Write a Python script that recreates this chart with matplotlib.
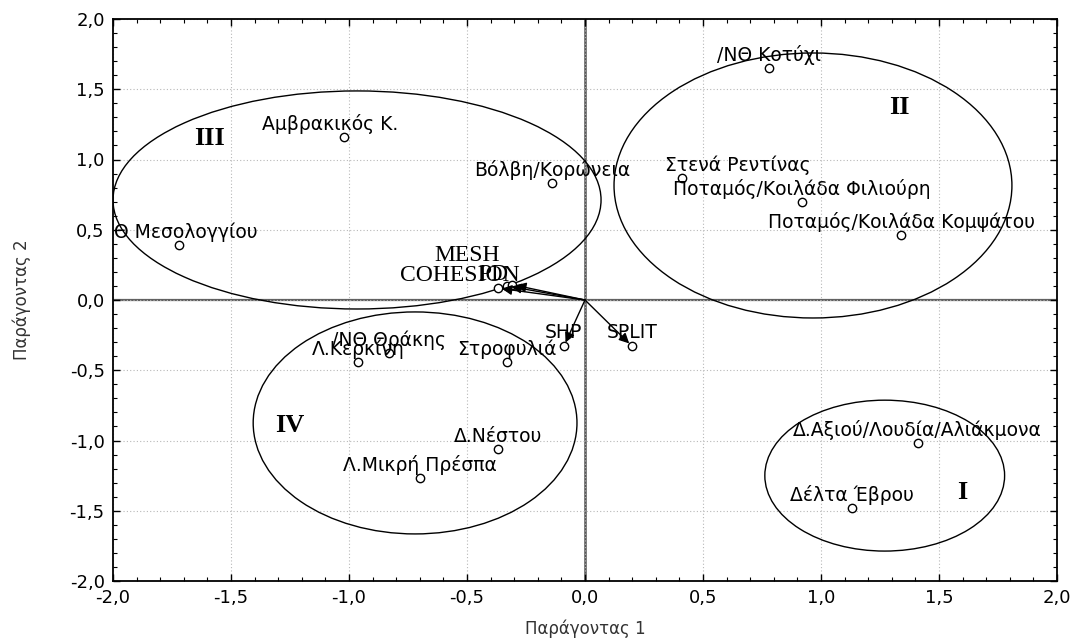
import matplotlib
matplotlib.use("Agg")
import matplotlib.pyplot as plt
from matplotlib.patches import Ellipse
from matplotlib.ticker import MultipleLocator, FixedLocator

# ---------------- data ----------------
site_names = ["/ΝΘ Κοτύχι", "Στενά Ρεντίνας", "Ποταμός/Κοιλάδα Φιλιούρη",
              "Ποταμός/Κοιλάδα Κομψάτου", "Δ.Αξιού/Λουδία/Αλιάκμονα", "Δέλτα Έβρου",
              "Αμβρακικός Κ.", "Θ Μεσολογγίου", "Βόλβη/Κορώνεια", "Στροφυλιά",
              "Λ.Κερκίνη", "/ΝΘ Θράκης", "Δ.Νέστου", "Λ.Μικρή Πρέσπα"]
site_f1 = [0.78, 0.41, 0.92, 1.34, 1.41, 1.13, -1.02, -1.72, -0.14, -0.33,
           -0.96, -0.83, -0.37, -0.70]
site_f2 = [1.65, 0.87, 0.70, 0.46, -1.02, -1.48, 1.16, 0.39, 0.83, -0.44,
           -0.44, -0.38, -1.06, -1.27]

vector_names = ["COHESION", "MESH", "PD", "SHP", "SPLIT"]
vector_f1 = [-0.37, -0.33, -0.31, -0.09, 0.20]
vector_f2 = [0.085, 0.10, 0.11, -0.33, -0.33]

cluster_names = ["I", "II", "III", "IV"]
cluster_cx = [1.27, 0.966, -0.966, -0.72]
cluster_cy = [-1.25, 0.815, 0.712, -0.875]
cluster_width = [1.016, 1.686, 2.068, 1.372]
cluster_height = [1.074, 1.886, 1.552, 1.58]

tick_values = [-2.0, -1.5, -1.0, -0.5, 0.0, 0.5, 1.0, 1.5, 2.0]
tick_labels = ["-2,0", "-1,5", "-1,0", "-0,5", "0,0", "0,5", "1,0", "1,5", "2,0"]

x_label = "Παράγοντας 1"
y_label = "Παράγοντας 2"

# ---------------- style / layout ----------------
SANS = ["DejaVu Sans"]
SERIF = ["Liberation Serif", "DejaVu Serif"]
numeral_pos = {"I": (1.60, -1.37), "II": (1.33, 1.37),
               "III": (-1.59, 1.15), "IV": (-1.25, -0.89)}
label_dx = {"Στενά Ρεντίνας": 40, "Αμβρακικός Κ.": -10}   # points
vector_label_style = {
    "COHESION": dict(offset=(-27, 5), family=SERIF, size=17),
    "MESH": dict(offset=(-29, 18), family=SERIF, size=17),
    "PD": dict(offset=(-13, 3), family=SERIF, size=17),
    "SHP": dict(offset=(0, 6), family=SANS, size=13.5),
    "SPLIT": dict(offset=(0, 6), family=SANS, size=13.5),
}
LABEL_SIZE = 13.5

fig = plt.figure(figsize=(10.75, 6.43), dpi=100)
ax = fig.add_axes([113 / 1075, 1 - 581 / 643, (1057 - 113) / 1075, (581 - 19) / 643])
ax.set_xlim(-2, 2)
ax.set_ylim(-2, 2)

# grid
ax.xaxis.set_major_locator(FixedLocator(tick_values))
ax.yaxis.set_major_locator(FixedLocator(tick_values))
ax.xaxis.set_minor_locator(MultipleLocator(0.1))
ax.yaxis.set_minor_locator(MultipleLocator(0.1))
ax.grid(True, which="major", color="#b8b8b8", linestyle=(0, (1, 2)), linewidth=0.8, zorder=0)

# zero lines
ax.axhline(0, color="#606060", linewidth=1.6, zorder=1)
ax.axvline(0, color="#555555", linewidth=1.8, zorder=1)

# ellipses
for cx, cy, w, h in zip(cluster_cx, cluster_cy, cluster_width, cluster_height):
    ax.add_patch(Ellipse((cx, cy), w, h, fill=False, edgecolor="black",
                         linewidth=1.0, zorder=2))

# cluster numerals
for name in cluster_names:
    px, py = numeral_pos[name]
    ax.text(px, py, name, family=SERIF, fontsize=19, fontweight="bold",
            ha="center", va="center", zorder=5)

# vectors
for name, vx, vy in zip(vector_names, vector_f1, vector_f2):
    ax.annotate("", xy=(vx, vy), xytext=(0, 0),
                arrowprops=dict(arrowstyle="-|>", color="black", lw=1.0,
                                mutation_scale=15, shrinkA=0, shrinkB=3),
                zorder=4)
ax.plot(vector_f1, vector_f2, linestyle="none", marker="o", markersize=6,
        markerfacecolor="white", markeredgecolor="black", markeredgewidth=1.0, zorder=3)
for name, vx, vy in zip(vector_names, vector_f1, vector_f2):
    st = vector_label_style[name]
    ax.annotate(name, xy=(vx, vy), xytext=st["offset"], textcoords="offset points",
                ha="center", va="baseline", family=st["family"], fontsize=st["size"],
                zorder=5)

# sites
ax.plot(site_f1, site_f2, linestyle="none", marker="o", markersize=6,
        markerfacecolor="white", markeredgecolor="black", markeredgewidth=1.0, zorder=3)
for name, sx, sy in zip(site_names, site_f1, site_f2):
    if name.startswith("Θ "):
        ax.annotate(name, xy=(-2.0, sy), xytext=(0.5, 5), textcoords="offset points",
                    ha="left", va="baseline", family=SANS, fontsize=LABEL_SIZE, zorder=5)
    else:
        ax.annotate(name, xy=(sx, sy), xytext=(label_dx.get(name, 0), 5),
                    textcoords="offset points", ha="center", va="baseline",
                    family=SANS, fontsize=LABEL_SIZE, zorder=5)

# ticks & labels
ax.set_xticklabels(tick_labels, family=SANS, fontsize=13)
ax.set_yticklabels(tick_labels, family=SANS, fontsize=13)
ax.tick_params(which="both", direction="in", top=True, right=True)
ax.tick_params(which="major", length=5, width=1)
ax.tick_params(which="minor", length=3, width=0.8)
ax.tick_params(axis="x", pad=6)
ax.tick_params(axis="y", pad=6)
for s in ax.spines.values():
    s.set_linewidth(1.3)
    s.set_color("black")

ax.set_xlabel(x_label, family=SANS, fontsize=12, color="#333333", labelpad=9)
ax.set_ylabel(y_label, family=SANS, fontsize=12, color="#333333", labelpad=28)

fig.savefig("out.png", dpi=100)
